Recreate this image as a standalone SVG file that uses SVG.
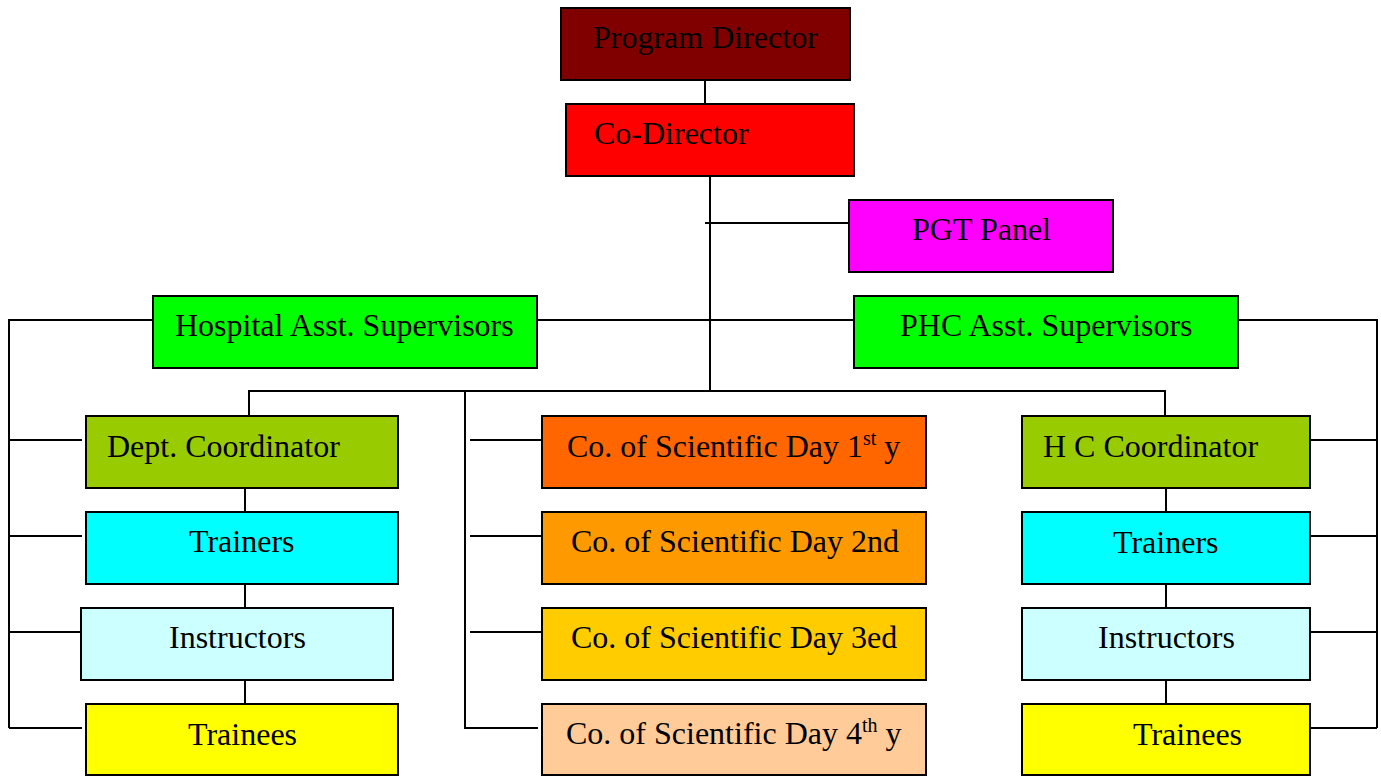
<svg xmlns="http://www.w3.org/2000/svg" width="1381" height="776" viewBox="0 0 1381 776">
<style>
.b{stroke:#000;stroke-width:2}
.t{font-family:"Liberation Serif","Times New Roman",serif;font-size:32px;fill:#000}
.c{fill:none;stroke:#000;stroke-width:2}
</style>
<rect width="1381" height="776" fill="#fff"/>
<g id="connectors">
<path class="c" d="M705 80V104"/>
<path class="c" d="M710 176V391"/>
<path class="c" d="M705 223H849"/>
<path class="c" d="M9 728V320H153"/>
<path class="c" d="M537 320H854"/>
<path class="c" d="M1236 320H1377V728"/>
<path class="c" d="M249 416V391H1165V416"/>
<path class="c" d="M465 391V728H538"/>
<path class="c" d="M9 440H82M9 536H82M9 632H81M9 728H82"/>
<path class="c" d="M470 440H542M470 536H542M470 632H542"/>
<path class="c" d="M1305 440H1377M1305 536H1377M1305 632H1377M1305 728H1377"/>
<path class="c" d="M245 488V512M245 584V608M245 680V704"/>
<path class="c" d="M1166 488V512M1166 584V608M1166 680V704"/>
</g>
<g id="program-director"><rect class="b" x="561" y="8" width="289" height="72" fill="#800000"/><text class="t" x="593" y="48">Program Director</text></g>
<g id="co-director"><rect class="b" x="566" y="104" width="288" height="72" fill="#FF0000"/><text class="t" x="594" y="144">Co-Director</text></g>
<g id="pgt-panel"><rect class="b" x="849" y="200" width="264" height="72" fill="#FF00FF"/><text class="t" x="912" y="240">PGT Panel</text></g>
<g id="hospital-asst"><rect class="b" x="153" y="296" width="384" height="72" fill="#00FF00"/><text class="t" x="175" y="336">Hospital Asst. Supervisors</text></g>
<g id="phc-asst"><rect class="b" x="854" y="296" width="384" height="72" fill="#00FF00"/><text class="t" x="900" y="336">PHC Asst. Supervisors</text></g>
<g id="dept-coordinator"><rect class="b" x="86" y="416" width="312" height="72" fill="#99CC00"/><text class="t" x="107" y="457">Dept. Coordinator</text></g>
<g id="trainers-left"><rect class="b" x="86" y="512" width="312" height="72" fill="#00FFFF"/><text class="t" x="189" y="552">Trainers</text></g>
<g id="instructors-left"><rect class="b" x="81" y="608" width="312" height="72" fill="#CCFFFF"/><text class="t" x="169" y="648">Instructors</text></g>
<g id="trainees-left"><rect class="b" x="86" y="704" width="312" height="71" fill="#FFFF00"/><text class="t" x="188" y="745">Trainees</text></g>
<g id="sci-day-1"><rect class="b" x="542" y="416" width="384" height="72" fill="#FF6600"/><text class="t" x="567" y="457">Co. of Scientific Day 1<tspan dy="-12" font-size="20">st</tspan><tspan dy="12"> y</tspan></text></g>
<g id="sci-day-2"><rect class="b" x="542" y="512" width="384" height="72" fill="#FF9900"/><text class="t" x="571" y="552">Co. of Scientific Day 2nd</text></g>
<g id="sci-day-3"><rect class="b" x="542" y="608" width="384" height="72" fill="#FFCC00"/><text class="t" x="571" y="648">Co. of Scientific Day 3ed</text></g>
<g id="sci-day-4"><rect class="b" x="542" y="704" width="384" height="71" fill="#FFCC99"/><text class="t" x="566" y="744">Co. of Scientific Day 4<tspan dy="-12" font-size="20">th</tspan><tspan dy="12"> y</tspan></text></g>
<g id="hc-coordinator"><rect class="b" x="1022" y="416" width="288" height="72" fill="#99CC00"/><text class="t" x="1043" y="457">H C Coordinator</text></g>
<g id="trainers-right"><rect class="b" x="1022" y="512" width="288" height="72" fill="#00FFFF"/><text class="t" x="1113" y="553">Trainers</text></g>
<g id="instructors-right"><rect class="b" x="1022" y="608" width="288" height="72" fill="#CCFFFF"/><text class="t" x="1098" y="648">Instructors</text></g>
<g id="trainees-right"><rect class="b" x="1022" y="704" width="288" height="71" fill="#FFFF00"/><text class="t" x="1133" y="745">Trainees</text></g>
</svg>
